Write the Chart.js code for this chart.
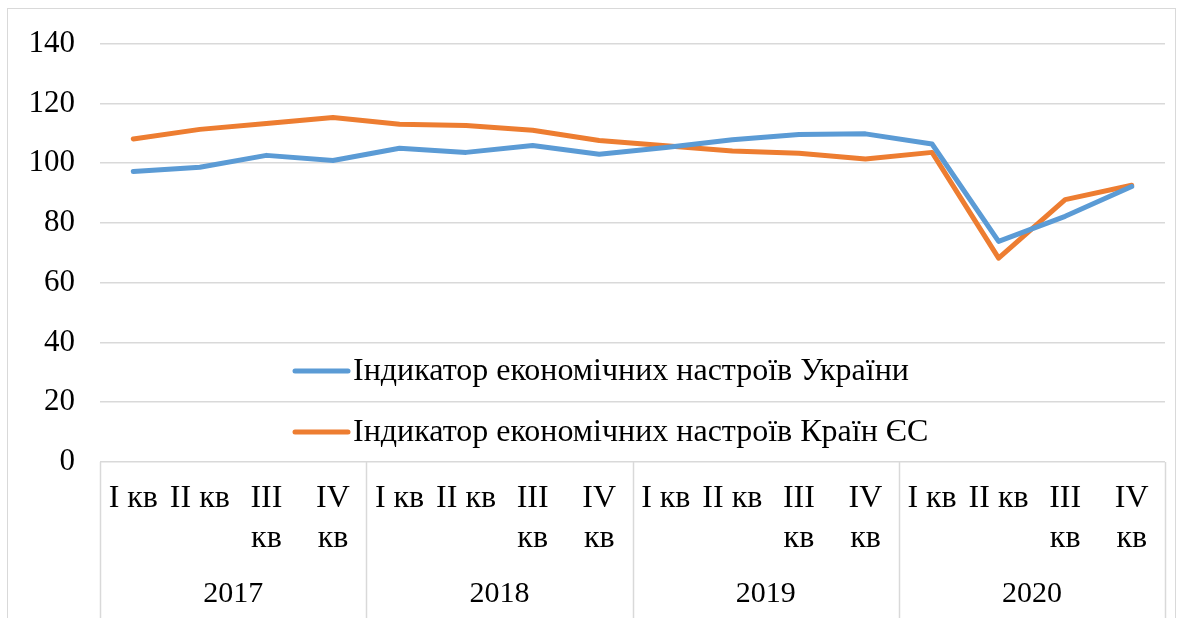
<!DOCTYPE html>
<html>
<head>
<meta charset="utf-8">
<script src="https://cdn.jsdelivr.net/npm/chart.js@4"></script>
<style>
  body { margin: 0; background: #fff; }
  #wrap { position: relative; width: 1180px; height: 618px; overflow: hidden; }
  #frame { position: absolute; left: 7px; top: 8px; width: 1167px; height: 640px; border: 1px solid #d9d9d9; pointer-events: none; }
</style>
</head>
<body>
<div id="wrap">
  <canvas id="myChart" width="1180" height="618"></canvas>
  <div id="frame"></div>
</div>
<script>
// data
const years = ['2017', '2018', '2019', '2020'];
const quarters = [['I кв'], ['II кв'], ['III', 'кв'], ['IV', 'кв']];
const ukraine = [97.2, 98.6, 102.6, 100.9, 105.0, 103.6, 105.9, 103.0, 105.2, 107.8, 109.6, 109.8, 106.4, 73.8, 82.2, 92.2];
const eu = [108.1, 111.3, 113.3, 115.3, 113.0, 112.6, 111.0, 107.6, 105.8, 104.1, 103.3, 101.4, 103.6, 68.2, 87.8, 92.6];
const yTicks = { min: 0, max: 140, step: 20 };

const labels = years.flatMap(() => quarters);
const family = '"Liberation Serif", "Times New Roman", serif';
const gridGray = '#d9d9d9';

// year separators under the x axis
const separators = {
  id: 'separators',
  afterDraw(chart) {
    const x = chart.scales.x, ctx = chart.ctx;
    ctx.save();
    ctx.strokeStyle = gridGray;
    ctx.lineWidth = 1.5;
    for (let i = 0; i <= labels.length; i += quarters.length) {
      const px = Math.round(x.getPixelForValue(i - 0.5)) + 0.5;
      ctx.beginPath();
      ctx.moveTo(px, chart.chartArea.bottom);
      ctx.lineTo(px, chart.height);
      ctx.stroke();
    }
    ctx.restore();
  }
};

// legend sitting inside the plot
const insideLegend = {
  id: 'insideLegend',
  afterDatasetsDraw(chart, args, opts) {
    const ctx = chart.ctx;
    ctx.save();
    ctx.font = opts.fontSize + 'px ' + family;
    ctx.textBaseline = 'middle';
    ctx.fillStyle = '#000';
    chart.data.datasets.forEach((ds, i) => {
      const y = opts.top + i * opts.rowGap;
      ctx.strokeStyle = ds.borderColor;
      ctx.lineWidth = 5;
      ctx.lineCap = 'round';
      ctx.beginPath();
      ctx.moveTo(opts.left, y);
      ctx.lineTo(opts.left + opts.sample, y);
      ctx.stroke();
      ctx.fillText(ds.label, opts.left + opts.sample + 5, y + 1);
    });
    ctx.restore();
  }
};

const ctx = document.getElementById('myChart').getContext('2d');
let myChart = new Chart(ctx, {
  type: 'line',
  data: {
    labels: labels,
    datasets: [{
      label: 'Індикатор економічних настроїв України',
      data: ukraine,
      borderColor: '#5b9bd5',
      borderWidth: 5,
      pointRadius: 0,
      borderJoinStyle: 'round',
      borderCapStyle: 'round'
    }, {
      label: 'Індикатор економічних настроїв Країн ЄС',
      data: eu,
      borderColor: '#ed7d31',
      borderWidth: 5,
      pointRadius: 0,
      borderJoinStyle: 'round',
      borderCapStyle: 'round'
    }]
  },
  options: {
    responsive: false,
    animation: false,
    layout: { padding: { top: 42, right: 15, bottom: 6, left: 0 } },
    plugins: {
      legend: { display: false },
      tooltip: { enabled: false },
      insideLegend: { left: 295, sample: 53, top: 371, rowGap: 61, fontSize: 32 }
    },
    scales: {
      x: {
        offset: true,
        grid: { display: false, drawTicks: false },
        border: { display: false },
        ticks: { font: { family: family, size: 32, lineHeight: '40px' }, color: '#000', padding: 17, maxRotation: 0, autoSkip: false },
        afterFit: s => { s.height = 95; }
      },
      x2: {
        type: 'category',
        labels: years,
        position: 'bottom',
        offset: true,
        grid: { display: false, drawTicks: false },
        border: { display: false },
        ticks: { font: { family: family, size: 30, lineHeight: '40px' }, color: '#000', padding: 17, maxRotation: 0 },
        afterFit: s => { s.height = 55; }
      },
      y: {
        min: yTicks.min,
        max: yTicks.max,
        ticks: { stepSize: yTicks.step, padding: 25, font: { family: family, size: 31 }, color: '#000' },
        grid: { color: gridGray, lineWidth: 1.5, drawTicks: false },
        border: { display: false },
        afterFit: s => { s.width = 100; }
      }
    }
  },
  plugins: [separators, insideLegend]
});
</script>
</body>
</html>
